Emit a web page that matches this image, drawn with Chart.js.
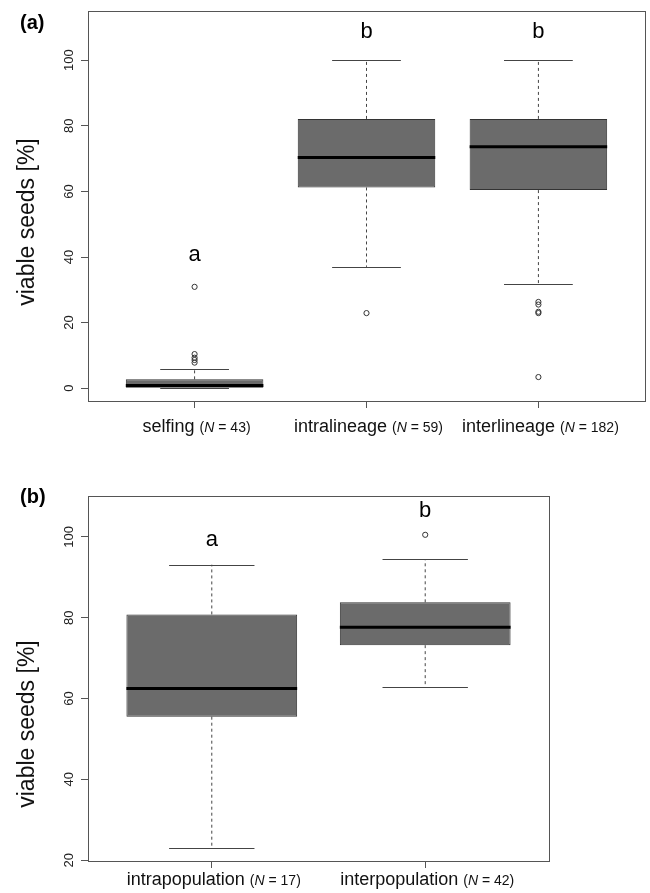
<!DOCTYPE html>
<html lang="en">
<head>
  <meta charset="UTF-8">
  <title>Viable seeds</title>
  <script src="https://cdn.jsdelivr.net/npm/chart.js"></script>
  <style>
    body { margin: 0; background: #fff; }
    .panel { position: absolute; left: 0; width: 650px; }
    #panelA { top: 0; height: 446px; }
    #panelB { top: 446px; height: 447px; }
  </style>
</head>
<body>
  <div class="panel" id="panelA"><canvas id="chartA" width="650" height="446"></canvas></div>
  <div class="panel" id="panelB"><canvas id="chartB" width="650" height="447"></canvas></div>

  <script>
    // panel (a): mating type
    const groupsA = ['selfing', 'intralineage', 'interlineage'];
    const nA = [43, 59, 182];
    const q1A = [0, 61.2, 60.4];
    const medA = [0.8, 70.3, 73.6];
    const q3A = [2.7, 82.1, 82.1];
    const loA = [0, 37.0, 31.9];
    const hiA = [5.9, 100, 100];
    const outA = [[30.9, 10.4, 9.3, 8.6, 7.8], [22.9], [26.3, 25.5, 23.3, 22.9, 3.4]];
    const lettersA = ['a', 'b', 'b'];
    const letterYA = [38.8, 106.8, 106.8];
    const yTicksA = [0, 20, 40, 60, 80, 100];

    // panel (b): population origin
    const groupsB = ['intrapopulation', 'interpopulation'];
    const nB = [17, 42];
    const q1B = [55.5, 73.2];
    const medB = [62.5, 77.6];
    const q3B = [80.8, 83.8];
    const loB = [22.9, 62.9];
    const hiB = [93.1, 94.5];
    const outB = [[], [100.5]];
    const lettersB = ['a', 'b'];
    const letterYB = [97.8, 105.0];
    const yTicksB = [20, 40, 60, 80, 100];

    const FONT = '"Liberation Sans", Arial, Helvetica, sans-serif';

    function boxExtras(p) {
      return {
        id: 'boxExtras',
        afterDatasetsDraw(chart) {
          const { ctx, scales: { x, y } } = chart;
          const bars = chart.getDatasetMeta(0).data;
          ctx.save();
          p.med.forEach((m, i) => {
            const cx = x.getPixelForValue(i + 1);
            const half = bars[i].width / 2;
            const cap = half / 2;
            // dashed whiskers
            ctx.strokeStyle = '#444';
            ctx.lineWidth = 1;
            ctx.setLineDash([3, 3]);
            ctx.beginPath();
            ctx.moveTo(cx, y.getPixelForValue(p.q3[i]));
            ctx.lineTo(cx, y.getPixelForValue(p.hi[i]));
            ctx.moveTo(cx, y.getPixelForValue(p.q1[i]));
            ctx.lineTo(cx, y.getPixelForValue(p.lo[i]));
            ctx.stroke();
            // staples
            ctx.setLineDash([]);
            ctx.beginPath();
            [p.hi[i], p.lo[i]].forEach(v => {
              const py = Math.round(y.getPixelForValue(v)) + 0.5;
              ctx.moveTo(cx - cap, py);
              ctx.lineTo(cx + cap, py);
            });
            ctx.stroke();
            // median
            ctx.strokeStyle = '#000';
            ctx.lineWidth = 3;
            ctx.beginPath();
            const my = y.getPixelForValue(m);
            ctx.moveTo(cx - half, my);
            ctx.lineTo(cx + half, my);
            ctx.stroke();
            // significance letters
            ctx.fillStyle = '#000';
            ctx.font = '22px ' + FONT;
            ctx.textAlign = 'center';
            ctx.textBaseline = 'alphabetic';
            ctx.fillText(p.letters[i], cx, y.getPixelForValue(p.letterY[i]));
          });
          ctx.restore();
        },
        afterDraw(chart) {
          const { ctx, chartArea: a, scales: { x, y } } = chart;
          ctx.save();
          // frame
          ctx.strokeStyle = '#555';
          ctx.lineWidth = 1;
          ctx.strokeRect(Math.round(a.left) + 0.5, Math.round(a.top) + 0.5,
            Math.round(a.right - a.left), Math.round(a.bottom - a.top));

          // y tick labels, rotated like R
          ctx.fillStyle = '#222';
          ctx.font = '13px ' + FONT;
          ctx.textAlign = 'center';
          ctx.textBaseline = 'alphabetic';
          p.yTicks.forEach(v => {
            ctx.save();
            ctx.translate(73, y.getPixelForValue(v));
            ctx.rotate(-Math.PI / 2);
            ctx.fillText(String(v), 0, 0);
            ctx.restore();
          });

          // y title
          ctx.save();
          ctx.fillStyle = '#111';
          ctx.font = '23px ' + FONT;
          ctx.translate(33.5, p.titleY);
          ctx.rotate(-Math.PI / 2);
          ctx.fillText('viable seeds [%]', 0, 0);
          ctx.restore();

          // x labels: name + (N = n)
          ctx.fillStyle = '#111';
          ctx.textAlign = 'left';
          p.groups.forEach((g, i) => {
            const cx = x.getPixelForValue(i + 1);
            const main = g + ' ';
            const pre = '(';
            const post = ' = ' + p.n[i] + ')';
            ctx.font = '18px ' + FONT;
            const w1 = ctx.measureText(main).width;
            ctx.font = '14px ' + FONT;
            const w2 = ctx.measureText(pre).width;
            const w4 = ctx.measureText(post).width;
            ctx.font = 'italic 14px ' + FONT;
            const w3 = ctx.measureText('N').width;
            let sx = cx - (w1 + w2 + w3 + w4) / 2 + 2;
            ctx.font = '18px ' + FONT;
            ctx.fillText(main, sx, p.labelY); sx += w1;
            ctx.font = '14px ' + FONT;
            ctx.fillText(pre, sx, p.labelY); sx += w2;
            ctx.font = 'italic 14px ' + FONT;
            ctx.fillText('N', sx, p.labelY); sx += w3;
            ctx.font = '14px ' + FONT;
            ctx.fillText(post, sx, p.labelY);
          });

          // panel label
          ctx.fillStyle = '#000';
          ctx.font = 'bold 20px ' + FONT;
          ctx.fillText(p.panel, 20, p.panelY);
          ctx.restore();
        }
      };
    }

    function makeChart(id, p) {
      const boxData = p.groups.map((g, i) => ({ x: i + 1, y: [p.q1[i], p.q3[i]] }));
      const outData = [];
      p.out.forEach((list, i) => list.forEach(v => outData.push({ x: i + 1, y: v })));

      return new Chart(document.getElementById(id), {
        type: 'bar',
        data: {
          datasets: [
            {
              label: 'IQR',
              data: boxData,
              backgroundColor: '#6b6b6b',
              borderColor: '#333',
              borderWidth: 1,
              borderSkipped: false,
              categoryPercentage: 1,
              barPercentage: 0.8
            },
            {
              type: 'scatter',
              label: 'outliers',
              data: outData,
              pointStyle: 'circle',
              pointRadius: 2.6,
              pointBorderWidth: 1,
              pointBorderColor: '#333',
              pointBackgroundColor: 'rgba(0,0,0,0)'
            }
          ]
        },
        options: {
          responsive: false,
          animation: false,
          layout: { padding: p.padding },
          plugins: { legend: { display: false }, tooltip: { enabled: false } },
          scales: {
            x: {
              type: 'linear',
              min: p.xMin,
              max: p.xMax,
              offset: false,
              afterBuildTicks: s => { s.ticks = p.groups.map((g, i) => ({ value: i + 1 })); },
              afterFit: s => { s.height = p.xHeight; },
              ticks: { display: false },
              grid: { offset: false, drawOnChartArea: false, color: '#555', tickLength: 7 },
              border: { display: true, color: '#555' }
            },
            y: {
              min: p.yMin,
              max: p.yMax,
              afterBuildTicks: s => { s.ticks = p.yTicks.map(v => ({ value: v })); },
              afterFit: s => { s.width = 88; },
              ticks: { display: false },
              grid: { drawOnChartArea: false, color: '#555', tickLength: 7 },
              border: { display: true, color: '#555' }
            }
          }
        },
        plugins: [boxExtras(p)]
      });
    }

    makeChart('chartA', {
      groups: groupsA, n: nA, q1: q1A, med: medA, q3: q3A, lo: loA, hi: hiA, out: outA,
      letters: lettersA, letterY: letterYA, yTicks: yTicksA,
      yMin: -3.9, yMax: 115, xMin: 0.38, xMax: 3.62,
      padding: { left: 0, right: 2, top: 11, bottom: 0 }, xHeight: 45,
      labelY: 432, titleY: 222, panel: '(a)', panelY: 29
    });

    makeChart('chartB', {
      groups: groupsB, n: nB, q1: q1B, med: medB, q3: q3B, lo: loB, hi: hiB, out: outB,
      letters: lettersB, letterY: letterYB, yTicks: yTicksB,
      yMin: 19.8, yMax: 110.1, xMin: 0.42, xMax: 2.58,
      padding: { left: 0, right: 101, top: 50, bottom: 0 }, xHeight: 32,
      labelY: 439, titleY: 278, panel: '(b)', panelY: 57
    });
  </script>
</body>
</html>
